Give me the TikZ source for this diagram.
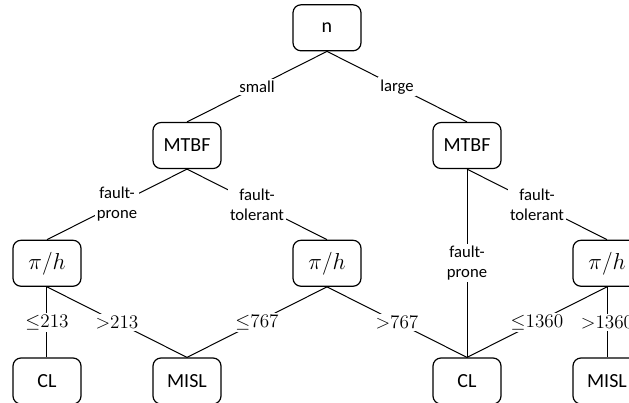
\documentclass[tikz,border=0pt]{standalone}
\usepackage{amssymb}
\usepackage{amsmath}
\usepackage{fontspec}
\setmainfont{Carlito}

\tikzset{
  box/.style={draw, rounded corners=6pt, line width=0.9pt,
    minimum width=51pt, minimum height=34.5pt,
    font=\fontsize{15}{18}\selectfont},
  mbox/.style={box, font=\fontsize{17.5}{21}\selectfont},
  lbl/.style={fill=white, inner sep=1.5pt, align=center,
    font=\fontsize{12.5}{15}\selectfont},
  mlbl/.style={lbl, font=\fontsize{14.5}{17}\selectfont}
}

\begin{document}
\begin{tikzpicture}[x=105pt, y=88.3pt, line width=0.75pt]
\useasboundingbox (-35.25pt,-16.5pt) rectangle (436.5pt,285.75pt);
\clip (-35.25pt,-16.5pt) rectangle (436.5pt,285.75pt);

\node[box] (n) at (2, 3) {n};
\node[box] (m1) at (1, 2) {MTBF};
\node[box] (m2) at (3, 2) {MTBF};
\node[mbox] (p1) at (0, 1) {$\pi/h$};
\node[mbox] (p2) at (2, 1) {$\pi/h$};
\node[mbox] (p3) at (4, 1) {$\pi/h$};
\node[box] (c1) at (0, 0) {CL};
\node[box] (s1) at (1, 0) {MISL};
\node[box] (c2) at (3, 0) {CL};
\node[box] (s2) at (4, 0) {MISL};

\draw (n.south) to node[lbl] {small} (m1.north);
\draw (n.south) to node[lbl] {large} (m2.north);

\draw (m1.south) to node[lbl] {fault-\\prone} (p1.north);
\draw (m1.south) to node[lbl] {fault-\\tolerant} (p2.north);
\draw (m2.south) to node[lbl] {fault-\\prone} (c2.north);
\draw (m2.south) to node[lbl] {fault-\\tolerant} (p3.north);

\draw (p1.south) to node[mlbl] {${\leq}213$} (c1.north);
\draw (p1.south) to node[mlbl] {${>}213$} (s1.north);
\draw (p2.south) to node[mlbl] {${\leq}767$} (s1.north);
\draw (p2.south) to node[mlbl] {${>}767$} (c2.north);
\draw (p3.south) to node[mlbl] {${\leq}1360$} (c2.north);
\draw (p3.south) to node[mlbl] {${>}1360$} (s2.north);

\end{tikzpicture}
\end{document}
